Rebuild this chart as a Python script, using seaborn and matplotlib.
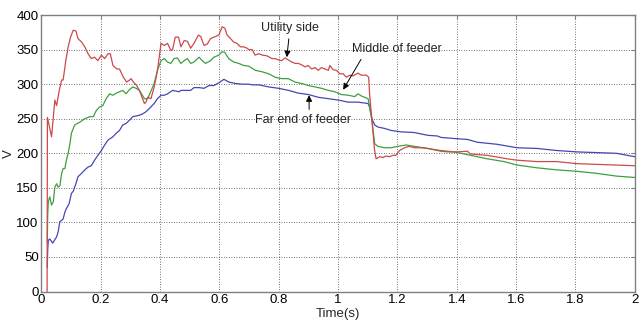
import matplotlib
matplotlib.use("Agg")
import matplotlib.pyplot as plt
import seaborn as sns
import pandas as pd

# ---------------- data ----------------
t_utility = [0.019, 0.020, 0.034, 0.045, 0.051, 0.060, 0.068, 0.073, 0.082, 0.090, 0.098, 0.107,
             0.116, 0.123, 0.135, 0.146, 0.157, 0.168, 0.179, 0.190, 0.202, 0.213, 0.224, 0.232,
             0.241, 0.254, 0.263, 0.276, 0.287, 0.297, 0.302, 0.310, 0.321, 0.330, 0.340, 0.347,
             0.352, 0.358, 0.369, 0.380, 0.391, 0.397, 0.403, 0.414, 0.425, 0.436, 0.442, 0.451,
             0.462, 0.470, 0.481, 0.492, 0.503, 0.514, 0.529, 0.537, 0.548, 0.559, 0.570, 0.581,
             0.598, 0.609, 0.618, 0.626, 0.637, 0.648, 0.659, 0.671, 0.682, 0.693, 0.699, 0.710,
             0.720, 0.732, 0.745, 0.760, 0.777, 0.788, 0.799, 0.810, 0.821, 0.832, 0.844, 0.855,
             0.866, 0.877, 0.888, 0.899, 0.911, 0.922, 0.933, 0.944, 0.955, 0.967, 0.972, 0.983,
             0.994, 1.006, 1.017, 1.028, 1.039, 1.050, 1.067, 1.078, 1.095, 1.103, 1.106, 1.114,
             1.123, 1.128, 1.140, 1.151, 1.162, 1.173, 1.184, 1.195, 1.207, 1.224, 1.240, 1.257,
             1.279, 1.302, 1.324, 1.346, 1.369, 1.402, 1.436, 1.445, 1.503, 1.570, 1.603, 1.670,
             1.737, 1.804, 1.871, 1.938, 2.000]
v_utility = [0, 252, 224, 277, 269, 291, 306, 306, 334, 354, 368, 378,
             377, 366, 361, 354, 344, 337, 339, 334, 342, 337, 344, 344,
             327, 322, 322, 310, 303, 306, 308, 303, 298, 291, 280, 272,
             274, 281, 279, 296, 320, 339, 359, 356, 359, 349, 350, 368,
             368, 354, 363, 362, 352, 359, 371, 369, 356, 358, 366, 368,
             371, 383, 381, 371, 366, 361, 359, 354, 354, 352, 350, 350,
             342, 344, 342, 341, 337, 337, 335, 334, 338, 335, 332, 330,
             330, 328, 325, 327, 322, 324, 320, 324, 322, 320, 327, 321,
             320, 315, 315, 310, 313, 312, 316, 313, 313, 310, 286, 248,
             204, 192, 195, 194, 196, 195, 197, 197, 204, 208, 210, 208,
             208, 207, 205, 203, 202, 202, 203, 199, 197, 192, 190, 188,
             188, 185, 184, 183, 182]

t_middle = [0.0195, 0.021, 0.023, 0.028, 0.034, 0.040, 0.045, 0.051, 0.056, 0.062, 0.068, 0.073,
            0.079, 0.084, 0.090, 0.096, 0.101, 0.112, 0.129, 0.146, 0.163, 0.175, 0.185, 0.196,
            0.207, 0.218, 0.230, 0.241, 0.252, 0.263, 0.274, 0.285, 0.296, 0.308, 0.319, 0.330,
            0.347, 0.358, 0.369, 0.380, 0.391, 0.403, 0.414, 0.425, 0.436, 0.447, 0.458, 0.470,
            0.481, 0.492, 0.503, 0.514, 0.531, 0.542, 0.553, 0.570, 0.581, 0.598, 0.609, 0.618,
            0.631, 0.648, 0.665, 0.682, 0.699, 0.721, 0.743, 0.766, 0.788, 0.810, 0.832, 0.855,
            0.877, 0.900, 0.922, 0.944, 0.967, 0.989, 1.011, 1.034, 1.056, 1.067, 1.078, 1.095,
            1.101, 1.106, 1.114, 1.123, 1.134, 1.156, 1.179, 1.201, 1.229, 1.257, 1.302, 1.346,
            1.391, 1.402, 1.447, 1.503, 1.559, 1.603, 1.670, 1.737, 1.804, 1.871, 1.938, 2.000]
v_middle = [70, 110, 130, 137, 125, 130, 151, 156, 151, 153, 171, 178,
            178, 190, 200, 214, 229, 241, 245, 250, 253, 253, 262, 267,
            269, 279, 286, 284, 287, 289, 291, 286, 292, 296, 294, 291,
            279, 279, 290, 301, 320, 334, 337, 332, 330, 337, 338, 330,
            334, 337, 330, 332, 339, 334, 330, 334, 339, 342, 347, 346,
            337, 332, 330, 327, 326, 320, 318, 315, 310, 308, 308, 303,
            301, 298, 296, 294, 291, 289, 285, 284, 282, 286, 283, 280,
            279, 267, 248, 214, 210, 208, 208, 210, 212, 210, 207, 204,
            202, 201, 197, 192, 188, 183, 179, 176, 174, 171, 167, 165]

t_far = [0.0195, 0.021, 0.023, 0.028, 0.038, 0.045, 0.051, 0.056, 0.062, 0.068, 0.073, 0.079,
         0.084, 0.093, 0.101, 0.107, 0.116, 0.123, 0.135, 0.146, 0.157, 0.168, 0.179, 0.190,
         0.202, 0.213, 0.224, 0.241, 0.252, 0.263, 0.274, 0.285, 0.297, 0.308, 0.319, 0.330,
         0.341, 0.352, 0.364, 0.380, 0.391, 0.403, 0.414, 0.425, 0.442, 0.464, 0.470, 0.486,
         0.503, 0.514, 0.531, 0.548, 0.565, 0.581, 0.598, 0.615, 0.632, 0.654, 0.676, 0.699,
         0.710, 0.732, 0.766, 0.799, 0.833, 0.866, 0.900, 0.933, 0.967, 1.000, 1.034, 1.067,
         1.084, 1.101, 1.106, 1.114, 1.123, 1.134, 1.156, 1.179, 1.212, 1.257, 1.302, 1.335,
         1.346, 1.402, 1.436, 1.469, 1.536, 1.603, 1.670, 1.737, 1.804, 1.871, 1.938, 2.000]
v_far = [35, 60, 74, 76, 70, 75, 79, 86, 101, 103, 105, 115,
         120, 127, 142, 145, 156, 166, 171, 176, 180, 182, 190, 197,
         204, 212, 219, 224, 229, 233, 241, 243, 248, 253, 254, 255,
         257, 260, 265, 272, 279, 284, 284, 286, 291, 289, 291, 291,
         291, 295, 295, 294, 298, 298, 302, 307, 303, 301, 300, 300,
         299, 299, 296, 294, 291, 287, 285, 281, 279, 277, 274, 274,
         273, 272, 267, 250, 241, 238, 236, 233, 231, 230, 226, 225,
         223, 221, 220, 216, 213, 208, 207, 204, 202, 201, 200, 195]

x_ticks = [0, 0.2, 0.4, 0.6, 0.8, 1.0, 1.2, 1.4, 1.6, 1.8, 2.0]
x_tick_labels = ["0", "0.2", "0.4", "0.6", "0.8", "1", "1.2", "1.4", "1.6", "1.8", "2"]
y_ticks = [0, 50, 100, 150, 200, 250, 300, 350, 400]

labels = ["Utility side", "Middle of feeder", "Far end of feeder"]
# annotation text position and arrow tip (data coords)
ann_text = [(0.8375, 381), (1.198, 351), (0.883, 248)]
ann_tip = [(0.827, 339), (1.017, 292), (0.902, 284)]

# ---------------- plot ----------------
sns.set_style("white")
plt.rcParams["font.family"] = ["Liberation Sans", "DejaVu Sans"]

fig = plt.figure(figsize=(6.41, 3.20), dpi=100)
ax = fig.add_axes([0.0647, 0.089, 0.9256, 0.864])

colors = ["#cc4a4a", "#3f9f3f", "#4646b4"]
series = [(t_utility, v_utility), (t_middle, v_middle), (t_far, v_far)]
# draw far end first so red on top
for (tt, vv), c, name in reversed(list(zip(series, colors, labels))):
    df = pd.DataFrame({"t": tt, "v": vv})
    sns.lineplot(data=df, x="t", y="v", ax=ax, color=c, lw=0.9,
                 sort=False, estimator=None, legend=False)

ax.set_xlim(0, 2)
ax.set_ylim(0, 400)
ax.set_xticks(x_ticks)
ax.set_xticklabels(x_tick_labels)
ax.set_yticks(y_ticks)
ax.tick_params(axis="both", direction="in", length=3, labelsize=9.5,
               top=True, right=True, colors="#808080", labelcolor="black", pad=2)
ax.grid(True, linestyle=(0, (1, 2)), color="#444444", lw=0.6)
for sp in ax.spines.values():
    sp.set_color("#808080")
    sp.set_linewidth(1.0)
    sp.set_zorder(3)

ax.set_xlabel("Time(s)", fontsize=9.5, labelpad=1)
ax.set_ylabel("V", fontsize=9.5, labelpad=1)

relpos = [(0.49, 0.0), (0.13, 0.0), (0.56, 1.0)]
for name, (tx, ty), (px, py), rp in zip(labels, ann_text, ann_tip, relpos):
    ax.annotate(name, xy=(px, py), xytext=(tx, ty), ha="center", va="center",
                fontsize=9,
                arrowprops=dict(arrowstyle="-|>", color="black", lw=0.7,
                                mutation_scale=9, shrinkA=1, shrinkB=0,
                                relpos=rp))

fig.savefig("out.png", dpi=100)
